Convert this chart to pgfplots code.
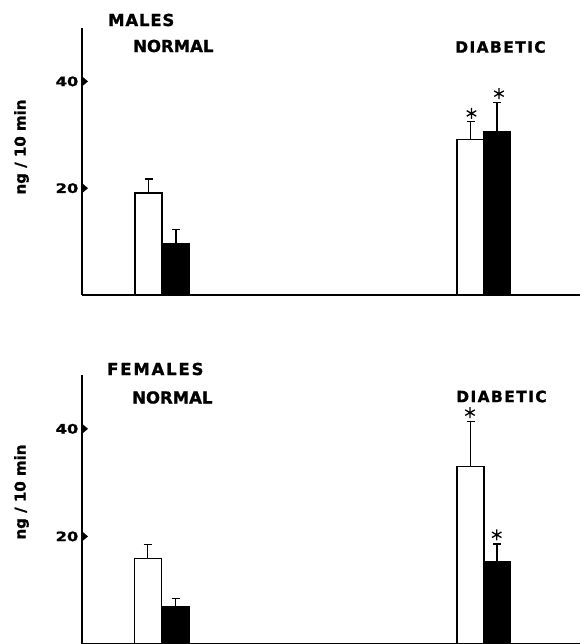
\documentclass[border=0pt]{standalone}
\usepackage{fontspec}
\setmainfont{DejaVu Sans}[BoldFeatures={FakeBold=1.2}]
\usepackage{graphicx}
\usepackage{pgfplots}
\pgfplotsset{compat=1.18}
\pgfdeclareplotmark{rtri}{%
  \pgfpathmoveto{\pgfqpoint{-0.5pt}{-5.5pt}}%
  \pgfpathlineto{\pgfqpoint{-0.5pt}{5.5pt}}%
  \pgfpathlineto{\pgfqpoint{6pt}{0pt}}%
  \pgfpathclose\pgfusepathqfill}
\pgfplotsset{
  panel/.style={
    scale only axis, width=498pt,
    xmin=0, xmax=498, ymin=0, ymax=50,
    axis x line=bottom, axis y line=left,
    axis line style={-, line width=1.4pt},
    xtick=\empty, ytick={20,40},
    major tick length=0pt,
    /pgf/number format/assume math mode=true,
    yticklabel={\fontsize{13}{13}\selectfont\bfseries\scalebox{1.25}[1]{\pgfmathprintnumber{\tick}}},
    yticklabel style={inner sep=0pt, anchor=east, xshift=-3.5pt},
    clip=false,
  },
  wbar/.style={ybar, bar shift=0pt, bar width=27, fill=white, draw=black, line width=1.3pt,
    error bars/.cd, y dir=plus, y explicit, error mark=|,
    error bar style={line width=1.3pt}, error mark options={line width=1.3pt, mark size=4pt}},
  bbar/.style={ybar, bar shift=0pt, bar width=27, fill=black, draw=black, line width=1.3pt,
    error bars/.cd, y dir=plus, y explicit, error mark=|,
    error bar style={line width=1.3pt}, error mark options={line width=1.3pt, mark size=4pt}},
  stars/.style={only marks, mark=asterisk, mark size=5.5pt, line width=1.3pt, black},
  tickmarks/.style={only marks, mark=rtri, black},
}
\begin{document}
\begin{tikzpicture}
\useasboundingbox (-82pt,0pt) rectangle (498pt,-644pt);
% top panel (males)
\begin{axis}[panel, height=267pt, at={(0pt,-295pt)}, anchor=south west]
\addplot[wbar] coordinates {(66.5,19.1) +- (0,2.6) (388.5,29.1) +- (0,3.4)};
\addplot[bbar] coordinates {(94,9.7) +- (0,2.6) (415,30.6) +- (0,5.5)};
\addplot[stars] coordinates {(389.5,34.0) (417,37.7)};
\addplot[tickmarks] coordinates {(0,20) (0,40)};
\end{axis}
% bottom panel (females)
\begin{axis}[panel, height=269pt, at={(0pt,-644pt)}, anchor=south west]
\addplot[wbar] coordinates {(65.7,15.9) +- (0,2.6) (388.5,33.0) +- (0,8.4)};
\addplot[bbar] coordinates {(93.5,6.9) +- (0,1.5) (415,15.3) +- (0,3.3)};
\addplot[stars] coordinates {(388,43.0) (414.7,20.3)};
\addplot[tickmarks] coordinates {(0,20) (0,40)};
\end{axis}
% texts
\begin{scope}[every node/.style={inner sep=0pt, font=\fontsize{16.5}{16.5}\selectfont\bfseries}]
\node[anchor=west] at (26pt,-20pt) {\addfontfeature{LetterSpace=5}MALES};
\node[anchor=west] at (51pt,-46pt) {NORMAL};
\node[anchor=west] at (373pt,-47pt) {\fontsize{15.5}{15.5}\selectfont\addfontfeature{LetterSpace=9}DIABETIC};
\node[anchor=west] at (25pt,-369pt) {\addfontfeature{LetterSpace=11}FEMALES};
\node[anchor=west] at (50pt,-397.5pt) {NORMAL};
\node[anchor=west] at (374pt,-396.5pt) {\fontsize{15.5}{15.5}\selectfont\addfontfeature{LetterSpace=9}DIABETIC};
\node[rotate=90, font=\fontsize{15}{15}\selectfont\bfseries] at (-60.5pt,-147pt) {ng / 10 min};
\node[rotate=90, font=\fontsize{15}{15}\selectfont\bfseries] at (-60.5pt,-492pt) {ng / 10 min};
\end{scope}
\end{tikzpicture}
\end{document}
